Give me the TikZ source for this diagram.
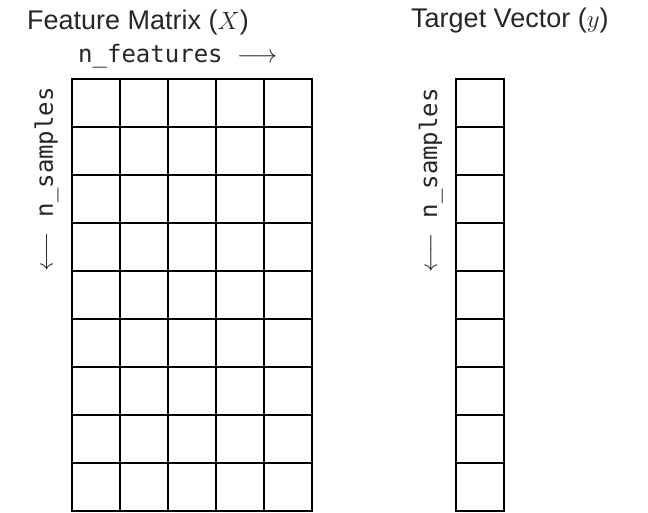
\documentclass[tikz,border=0pt]{standalone}
\usepackage{fontspec}
\setmainfont{Liberation Sans}
\setmonofont{DejaVu Sans Mono}
\usepackage{tikz}
\usetikzlibrary{positioning}
\definecolor{dsink}{HTML}{262626}
\tikzset{
  cell/.style={rectangle, draw=black, line width=1.5pt, minimum size=48pt,
               inner sep=0pt, outer sep=0pt},
  ttl/.style={font=\fontsize{27}{32}\selectfont, text=dsink, inner sep=0pt},
  dimlbl/.style={font=\fontsize{24}{28}\selectfont\ttfamily, text=dsink, inner sep=0pt},
}

\begin{document}
\begin{tikzpicture}[x=1pt,y=1pt]
\useasboundingbox (0,0) rectangle (648,512);

% feature matrix, 9 x 5
\foreach \r in {1,...,9}
  \foreach \c in {1,...,5}
    \node[cell] (x-\r-\c) at ({96+48*(\c-1)},{409-48*(\r-1)}) {};
% target vector, 9 x 1
\foreach \r in {1,...,9}
  \node[cell] (y-\r) at (480,{409-48*(\r-1)}) {};

% titles
\node[ttl,anchor=base west] (xttl) at (27,482.5) {Feature Matrix ($X$)};
\node[ttl,anchor=base west] (yttl) at (411,484) {Target Vector ($y$)};

% axis labels
\node[dimlbl,anchor=base west] (feat) at (78,449)
   {n\_features $\longrightarrow$};
\node[dimlbl,rotate=90,anchor=base east] (xsamp) at (53,425)
   {$\longleftarrow$ n\_samples};
\node[dimlbl,rotate=90,anchor=base east] (ysamp) at (437,424)
   {$\longleftarrow$ n\_samples};
\end{tikzpicture}
\end{document}
